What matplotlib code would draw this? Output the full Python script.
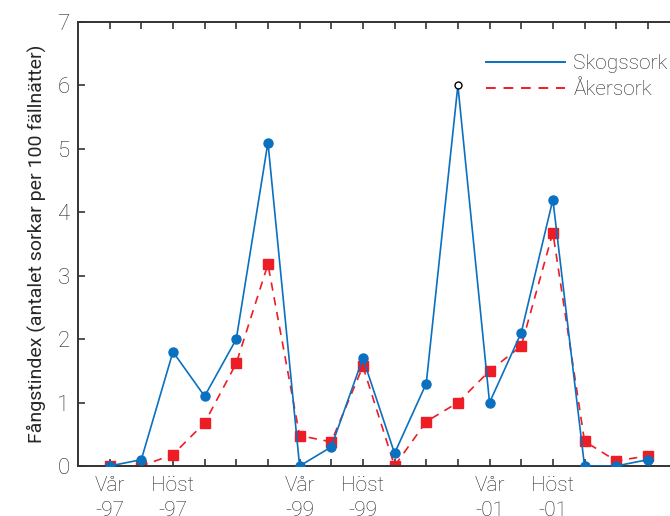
import matplotlib.pyplot as plt
import matplotlib.transforms as mtransforms
from matplotlib.lines import Line2D

plt.rcParams['font.family'] = ['Roboto', 'DejaVu Sans']
plt.rcParams['font.weight'] = 'light'

# data
x = list(range(1, 19))
skogssork = [0, 0.1, 1.8, 1.1, 2.0, 5.1, 0, 0.3, 1.7, 0.2, 1.3, 6.0, 1.0, 2.1, 4.2, 0, 0, 0.1]
akersork = [0, 0, 0.18, 0.68, 1.62, 3.18, 0.48, 0.38, 1.57, 0, 0.7, 1.0, 1.5, 1.89, 3.68, 0.39, 0.08, 0.16]
open_point = 12  # skogssork-värdet vid x=12 ritas som öppen ring
season_pos = [1, 3, 7, 9, 13, 15]
season_labels = ["Vår", "Höst", "Vår", "Höst", "Vår", "Höst"]
year_labels = ["-97", "-97", "-99", "-99", "-01", "-01"]

blue = '#0a70c0'
red = '#ee1c25'
textcol = '#262626'

fig = plt.figure(figsize=(6.7, 5.16), dpi=100)
ax = fig.add_axes([0.1164, 0.0969, 0.8836, 0.8605])

ax.plot(x, akersork, color=red, linestyle=(0, (5, 4)), linewidth=1.2,
        marker='s', markersize=6.5, zorder=2)

filled = [i for i in range(len(x)) if x[i] != open_point]
ax.plot(x, skogssork, color=blue, linewidth=1.2, zorder=3)
ax.plot([x[i] for i in filled], [skogssork[i] for i in filled], linestyle='none',
        marker='o', markersize=6.5, color=blue, zorder=4)
i_open = x.index(open_point)
ax.plot([x[i_open]], [skogssork[i_open]], linestyle='none', marker='o', markersize=5,
        markerfacecolor='white', markeredgecolor='black', markeredgewidth=1, zorder=5)

ax.set_xlim(0, 18.7)
ax.set_ylim(0, 7)
ax.set_yticks(range(0, 8))
ax.set_xticks(range(1, 19))
ax.set_xticklabels([])
ax.tick_params(axis='both', direction='in', length=5, width=1.2, colors='#333333',
               labelsize=16, labelcolor=textcol, top=True)
ax.tick_params(axis='y', pad=6)
ax.spines['right'].set_visible(False)
for s in ['left', 'bottom', 'top']:
    ax.spines[s].set_linewidth(1.4)
    ax.spines[s].set_color('#333333')

trans = mtransforms.blended_transform_factory(ax.transData, ax.transAxes)
for p, s, yl in zip(season_pos, season_labels, year_labels):
    ax.text(p, -0.045, s, transform=trans, ha='center', va='center',
            fontsize=15, color=textcol, clip_on=False)
    ax.text(p, -0.1, yl, transform=trans, ha='center', va='center',
            fontsize=15, color=textcol, clip_on=False)

ax.set_ylabel("Fångstindex (antalet sorkar per 100 fällnätter)", fontsize=14,
              color=textcol, labelpad=8)

handles = [Line2D([], [], color=blue, linewidth=1.4),
           Line2D([], [], color=red, linewidth=1.4, linestyle=(0, (5, 4)))]
leg = ax.legend(handles, ['Skogssork', 'Åkersork'], loc='upper right', frameon=False,
                fontsize=15, handlelength=3.8, handletextpad=0.4, labelspacing=0.35,
                bbox_to_anchor=(1.028, 0.97), labelcolor=textcol)

fig.savefig("out.png", dpi=100)
